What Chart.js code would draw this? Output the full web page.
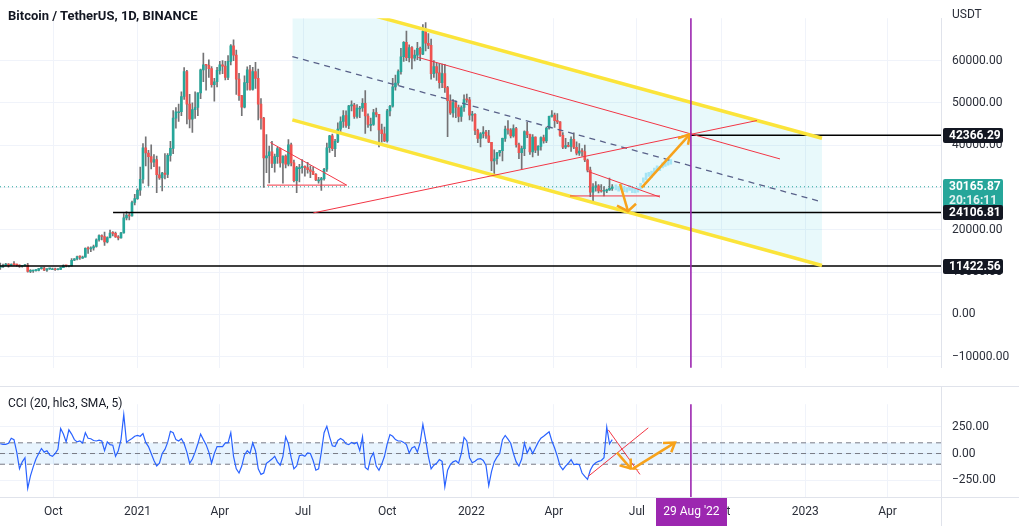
<!DOCTYPE html>
<html><head><meta charset="utf-8">
<script src="https://cdn.jsdelivr.net/npm/chart.js@4.4.1/dist/chart.umd.min.js"></script>
<style>
html,body{margin:0;padding:0;background:#fff;}
#wrap{position:relative;width:1019px;height:526px;overflow:hidden;background:#fff;font-family:Roboto,'Noto Sans',sans-serif;}
canvas{position:absolute;left:0;display:block;}
#pc{top:0;}
#cc{top:386px;}
.ov{position:absolute;white-space:nowrap;color:#131722;line-height:1;}
#title{left:8px;top:9px;font-size:13px;font-weight:bold;}
#cciLbl{left:8px;top:397px;font-size:12px;}
#usdt{left:952px;top:8px;font-size:12px;color:#2a2e39;}
</style></head>
<body><div id="wrap">
<canvas id="pc" width="1019" height="386"></canvas>
<canvas id="cc" width="1019" height="140"></canvas>
<div class="ov" id="title">Bitcoin / TetherUS, 1D, BINANCE</div>
<div class="ov" id="cciLbl">CCI (20, hlc3, SMA, 5)</div>
<div class="ov" id="usdt">USDT</div>
</div>
<script>
// ---------- DATA (day 0 = 1 Aug 2020, candles every 3 days) ----------
const startDay = 3;
const stepDays = 3;
const firstOpen = 11100;
const closes = [11200,11600,11900,11550,11850,11750,11650,11350,11500,11650,
10150,10250,10350,10400,10800,10950,10450,10750,10780,10780,
10550,10600,11050,11550,11500,11500,12800,13100,13650,13550,
13550,15600,15480,15700,16050,17650,18650,18400,17150,18180,
19200,19150,18320,18050,19250,22800,23450,23250,26450,27350,
29350,31950,39400,38150,37300,36000,36600,33000,32250,33400,33100,
37600,39250,46400,47900,47900,51500,57400,49700,46150,
48400,48900,52350,57800,59000,58900,58100,54300,55000,57700,
59000,58700,56000,59800,63500,61300,55600,51700,49000,54800,
57800,53200,57400,55800,49700,46400,37000,37500,38400,35700,37300,
39200,35800,37400,35500,40100,35800,31600,34700,34700,35000,
34700,34200,33800,33100,31800,31800,32100,34300,39400,42200,
39200,40900,43800,45600,47000,44700,49300,49500,46800,48800,
48800,49900,46900,44900,44900,47700,47300,43600,42700,41000,
48100,49200,53800,54700,57400,60900,64300,60700,63100,60600,61300,
62900,61500,66900,64100,63600,56900,58600,57100,54800,56900,
53600,50500,47600,50100,48900,46800,48900,50800,50700,47100,
47300,43500,41600,42700,43100,42200,40700,36300,36800,38200,
38700,41600,43800,43600,42200,43900,40100,38200,39200,43200,
42500,38400,41900,38800,39700,41800,41000,44000,46800,47100,
45800,45500,42300,39500,39900,39700,41400,39500,38100,38600,
38500,36500,34100,28900,30100,30400,29200,29100,29200,29400,
29800,30166];
const highs = [12100,11900,12080,12000,11950,12480,11900,11700,11600,11800,
12050,10600,10450,10600,10900,11100,11180,10800,10800,10950,
10950,10800,11100,11700,11550,11500,13200,13200,13800,13860,
13800,15750,15960,15960,16400,17850,18800,18800,19450,18350,
19900,19600,19450,18650,19400,23800,24300,24100,26800,28400,
29650,34800,40400,41950,38800,40100,37800,37400,34900,33600,38000,
38000,40900,48200,48900,49700,52600,58350,57700,52000,
50000,52600,52400,58000,61800,59000,60200,58600,55800,58400,
59800,60000,59800,61200,63800,64900,62500,57000,51800,56400,
58500,58900,58400,59600,58000,51000,46600,42500,39800,40900,37900,
39500,39300,37500,37700,41300,40500,36500,35000,35500,36600,
35100,35950,35100,34800,33300,32400,32400,34500,40500,42300,
42600,41400,45300,46700,48200,48100,49400,50500,49900,49600,
49200,51000,52900,47400,46400,48500,48800,47300,45000,44300,
48500,49400,55800,56600,57800,62900,64500,67000,63700,63300,62500,
64300,63200,68500,69000,66400,65100,60000,59400,59300,59200,
59100,53900,51900,50800,50500,49500,49300,51900,52100,51300,
48000,47500,43800,43000,44400,43500,43500,40700,38900,38300,
38800,41700,44500,45800,43900,44800,44200,40500,39800,43400,
45400,42600,42500,42000,39900,42000,42400,44300,46900,48200,
47600,47500,45600,43000,41600,40700,42000,42900,40800,40400,
39200,40000,36700,34800,30900,31400,30700,30700,30200,29600,
32200,30700];
const lows = [10650,11100,11500,11150,11550,11600,11400,11120,11150,11400,
10000,9880,9900,10200,10250,10700,10350,10150,10600,10650,
10370,10500,10550,11050,11200,11200,11400,12700,12900,12980,
13200,13550,14400,14800,15200,15900,17300,17600,16300,16900,
18100,18550,18200,17600,18000,19200,22350,22350,23200,25900,
27200,28100,31000,35100,30400,34400,34900,28800,31900,29200,32000,
32300,36200,38000,44000,45600,47000,50800,45000,44100,
43000,46300,47000,51000,55000,53000,56000,53700,50400,53800,
56800,56900,55400,55500,59000,60000,52000,50600,47000,48800,
53000,53000,53000,53400,46000,43800,30000,33500,31100,34700,33600,
35700,34800,31000,34600,35100,35100,31300,28800,31300,33400,
32700,33400,32300,33000,31600,31000,29300,31700,33800,38300,
38700,37300,40600,42800,44200,44200,43900,48100,46300,46400,
46500,48000,42800,44200,43400,44700,46700,39600,40700,40800,
40700,46900,49000,53000,54200,56800,59800,60000,59700,58000,59900,
60200,60000,61400,62300,62800,55600,56000,55300,53500,53600,
52500,42000,47300,46600,46500,45500,45600,48000,50100,46000,
45700,42500,40600,39600,41700,41600,40600,34000,32900,35500,
37400,36250,40900,42600,41700,41900,39500,36800,34300,37500,
41800,37800,37200,38200,37600,38800,40500,40600,43800,46600,
44200,45100,42100,39200,39200,39600,38500,39200,37700,37600,
37400,36100,33700,27800,26700,29100,28700,28900,28000,28800,
29300,29300];
const cciValues = [91,86,86,96,143,130,13,-143,-78,-39,
-325,-208,-125,-52,0,47,13,26,-13,-26,
0,39,234,182,109,221,182,130,109,117,
99,195,143,138,122,117,125,117,26,109,
83,78,-26,26,130,365,104,125,141,161,
169,161,187,104,65,0,-65,-117,-91,0,
39,104,208,195,130,117,138,91,13,-91,
-52,13,91,182,130,83,13,-91,0,65,
65,65,99,99,195,-26,-143,-182,-117,-13,
26,0,99,26,-143,-195,-182,-91,-73,-52,
-26,-78,-109,-26,156,91,-39,-143,-117,-21,
-13,-26,5,0,-65,-156,-143,13,195,255,
156,73,65,122,141,125,91,83,104,91,
104,26,156,-130,-151,-39,5,-117,-156,-99,
-26,91,177,161,130,117,117,104,83,5,
52,65,13,104,273,130,-26,-143,-109,-91,
-57,-73,-312,-156,-104,-78,-68,-91,0,151,
117,-39,-86,-73,-52,-47,-65,-112,-299,-169,
-78,-34,0,130,169,135,96,0,-78,-117,
-52,99,5,57,0,52,104,143,161,182,
203,117,52,-26,-117,-151,-117,-91,-57,-104,
-99,-104,-182,-214,-242,-156,-109,-86,-73,-65,
-39,247,91,130];
// projected (ghost) bars pattern
const ghostDays = [676,679,682,685,688,691,694,697,700,703,706,709,712,715,718,721,724,727,730,733,736];
const ghostLow  = [29400,29100,29500,29000,28900,29300,28800,28700,28900,29600,31200,31800,32600,32400,33300,33900,34000,34600,35000,35300,35500];
const ghostHigh = [30600,30300,30800,30200,30000,30500,29800,29600,30000,31000,32300,33400,33600,33900,34600,35100,35000,35800,36200,36400,36600];

// axis ticks
const tickDays = [61,153,243,334,426,518,608,699,791,883,973];
const tickLabels = ['Oct','2021','Apr','Jul','Oct','2022','Apr','Jul','Oct','2023','Apr'];
const priceTicks = [60000,50000,40000,30000,20000,10000,0,-10000];
const cciTicks = [250,0,-250];
const xMin = 2.7, xMax = 1031.4;
const priceMin = -12634, priceMax = 70021;
const cciMin = -406.25, cciMax = 460.9;

// price levels & marker
const levelPrices = [42366.29, 24106.81, 11422.56];
const levelStartDays = [757, 126.3, 2.7];
const lastPrice = 30165.87;
const countdown = '20:16:11';
const markerDay = 758;
const markerLabel = "29 Aug '22";
const cciBand = [100, -100];

// drawings (day, value)
const channelDays = [322.3, 901.3];
const channelTop = [75909, 41627];
const channelBottom = [45995, 11563];
const channelMid = [60952, 26595];
const redADays = [460, 855.4], redAPrices = [60748, 36745];
const redBDays = [345.2, 830.2], redBPrices = [23983, 45824];
const tri1DescDays = [298.2, 381.7], tri1DescPrices = [40621, 30556];
const tri1BaseDays = [294.6, 381.7], tri1BasePrices = [30556, 30556];
const tri2DescDays = [645.8, 724.2], tri2DescPrices = [33768, 27730];
const tri2BaseDays = [625.8, 724.2], tri2BasePrices = [28000, 28000];
const upArrowDays = [704.2, 757], upArrowPrices = [29978, 42612];
const upHeadDays = [743.9, 757, 754.8], upHeadPrices = [41627, 42612, 40085];
const dnArrowDays = [680.5, 689.2], dnArrowPrices = [30835, 24400];
const dnHeadDays = [677.2, 689.2, 698], dnHeadPrices = [25700, 24400, 26150];
const cciRedUpDays = [645.8, 711.4], cciRedUpVals = [-213, 240];
const cciRedDnDays = [667.7, 702.3], cciRedDnVals = [221, -195];
const cciDnArrowDays = [677.2, 692.5], cciDnArrowVals = [8, -141];
const cciDnHeadDays = [680, 692.5, 692.2], cciDnHeadVals = [-111, -141, -47];
const cciUpArrowDays = [694.7, 740.6], cciUpArrowVals = [-141, 102];
const cciUpHeadDays = [727.5, 740.6, 736.5], cciUpHeadVals = [99, 102, 12];

// ---------- BUILD ----------
const FONT = "Roboto, 'Noto Sans', sans-serif";
Chart.defaults.font.family = FONT;
Chart.defaults.font.size = 12;
Chart.defaults.color = '#2a2e39';

const YELLOW = '#fbe43a', RED = '#f23645', ORANGE = '#f7a21b', PURPLE = '#9c27b0';
const GRID = '#f0f3fa', BORDER = '#e0e3eb';

const candleDays = closes.map((_, i) => startDay + i * stepDays);
const opens = closes.map((c, i) => i === 0 ? firstOpen : closes[i - 1]);
const bodyColors = closes.map((c, i) => c >= opens[i] ? '#26a69a' : '#ef5350');

function seg(days, vals) { return days.map((d, i) => ({x: d, y: vals[i]})); }
function lineDs(points, color, width, order, extra) {
  return Object.assign({type: 'line', data: points, borderColor: color, borderWidth: width,
    pointRadius: 0, pointHoverRadius: 0, fill: false, tension: 0, order: order}, extra || {});
}
const fmt = v => (v < 0 ? '\u2212' + Math.abs(v).toFixed(2) : v.toFixed(2));

function xScale(showLabels) {
  return {
    type: 'linear', min: xMin, max: xMax, offset: false,
    afterBuildTicks: s => { s.ticks = tickDays.map(v => ({value: v})); },
    afterFit: s => { s.height = showLabels ? 29 : 0; },
    ticks: {display: showLabels, autoSkip: false, maxRotation: 0, padding: 8, color: '#2a2e39',
      callback: v => { const k = tickDays.indexOf(v); return k >= 0 ? tickLabels[k] : ''; }},
    grid: {color: GRID, drawTicks: false, offset: false},
    border: {display: false}
  };
}
function yScale(min, max, ticks) {
  return {
    type: 'linear', position: 'right', min: min, max: max,
    afterBuildTicks: s => { s.ticks = ticks.map(v => ({value: v})); },
    afterFit: s => { s.width = 78; },
    ticks: {autoSkip: false, padding: 11, color: '#2a2e39', callback: v => fmt(v)},
    grid: {color: GRID, drawTicks: false},
    border: {display: true, color: BORDER}
  };
}

function roundRect(ctx, x, y, w, h, r) {
  ctx.beginPath();
  ctx.moveTo(x + r, y); ctx.lineTo(x + w - r, y); ctx.quadraticCurveTo(x + w, y, x + w, y + r);
  ctx.lineTo(x + w, y + h - r); ctx.quadraticCurveTo(x + w, y + h, x + w - r, y + h);
  ctx.lineTo(x + r, y + h); ctx.quadraticCurveTo(x, y + h, x, y + h - r);
  ctx.lineTo(x, y + r); ctx.quadraticCurveTo(x, y, x + r, y); ctx.closePath();
}
function tagBox(ctx, yc, lines, bg, colors) {
  const lh = 14, h = lines.length * lh + 1;
  const top = Math.round(yc - lh / 2 - 0.5);
  ctx.fillStyle = bg; roundRect(ctx, 943, top, 60, h, 2); ctx.fill();
  ctx.font = 'bold 12px ' + FONT; ctx.textBaseline = 'middle'; ctx.textAlign = 'left';
  lines.forEach((t, i) => { ctx.fillStyle = colors[i]; ctx.fillText(t, 949, top + lh / 2 + 1 + i * lh); });
}
function purpleLine(chart) {
  const ctx = chart.ctx, ca = chart.chartArea;
  const px = chart.scales.x.getPixelForValue(markerDay);
  ctx.save(); ctx.strokeStyle = PURPLE; ctx.lineWidth = 1.6;
  ctx.beginPath(); ctx.moveTo(px, ca.top); ctx.lineTo(px, ca.bottom); ctx.stroke(); ctx.restore();
}

const priceOverlay = {
  id: 'priceOverlay',
  afterDatasetsDraw(chart) { purpleLine(chart); },
  afterDraw(chart) {
    const ctx = chart.ctx, y = chart.scales.y;
    ctx.save();
    tagBox(ctx, y.getPixelForValue(lastPrice), [lastPrice.toFixed(2), countdown], '#26a69a', ['#ffffff', 'rgba(255,255,255,0.85)']);
    levelPrices.forEach(p => tagBox(ctx, y.getPixelForValue(p), [p.toFixed(2)], '#131722', ['#ffffff']));
    ctx.restore();
  }
};
const cciOverlay = {
  id: 'cciOverlay',
  afterDatasetsDraw(chart) { purpleLine(chart); },
  afterDraw(chart) {
    const ctx = chart.ctx, ca = chart.chartArea, W = chart.width, H = chart.height;
    ctx.save();
    ctx.fillStyle = BORDER;
    ctx.fillRect(0, 0, W, 1);
    ctx.fillRect(0, Math.round(ca.bottom), W, 1);
    ctx.fillRect(Math.round(ca.right), 0, 1, H);
    const px = chart.scales.x.getPixelForValue(markerDay);
    ctx.fillStyle = PURPLE; ctx.fillRect(Math.round(px - 35), Math.round(ca.bottom + 1), 71, H - ca.bottom - 1);
    ctx.fillStyle = '#ffffff'; ctx.font = '12px ' + FONT; ctx.textAlign = 'center'; ctx.textBaseline = 'middle';
    ctx.fillText(markerLabel, px + 0.5, ca.bottom + 15);
    ctx.restore();
  }
};

const priceDatasets = [
  lineDs(seg(channelDays, channelTop), 'rgba(0,0,0,0)', 0, 40, {fill: '+1', backgroundColor: 'rgba(0,188,212,0.09)'}),
  lineDs(seg(channelDays, channelBottom), 'rgba(0,0,0,0)', 0, 39),
  lineDs(seg([xMin, xMax], [lastPrice, lastPrice]), '#26a69a', 1, 38, {borderDash: [1, 3]}),
  {type: 'bar', data: ghostDays.map((d, i) => ({x: d, y: [ghostLow[i], ghostHigh[i]]})), backgroundColor: '#a6e5f4',
    barThickness: 2, grouped: false, minBarLength: 1, order: 37},
  {type: 'bar', data: candleDays.map((d, i) => ({x: d, y: [lows[i], highs[i]]})), backgroundColor: '#737375',
    barThickness: 1, grouped: false, minBarLength: 1, order: 36},
  {type: 'bar', data: candleDays.map((d, i) => ({x: d, y: [opens[i], closes[i]]})), backgroundColor: bodyColors,
    barThickness: 2, grouped: false, minBarLength: 1, order: 35},
  ...levelPrices.map((p, i) => lineDs(seg([levelStartDays[i], xMax], [p, p]), '#000000', 1.5, 10)),
  lineDs(seg(channelDays, channelTop), YELLOW, 3.5, 9),
  lineDs(seg(channelDays, channelBottom), YELLOW, 3.5, 9),
  lineDs(seg(channelDays, channelMid), '#59628a', 1.3, 9, {borderDash: [6, 5]}),
  lineDs(seg(redADays, redAPrices), RED, 1, 8),
  lineDs(seg(redBDays, redBPrices), RED, 1, 8),
  lineDs(seg(tri1DescDays, tri1DescPrices), RED, 1, 8),
  lineDs(seg(tri1BaseDays, tri1BasePrices), RED, 1, 8),
  lineDs(seg(tri2DescDays, tri2DescPrices), RED, 1, 8),
  lineDs(seg(tri2BaseDays, tri2BasePrices), RED, 1, 8),
  lineDs(seg(upArrowDays, upArrowPrices), ORANGE, 2.5, 7),
  lineDs(seg(upHeadDays, upHeadPrices), ORANGE, 2.5, 7),
  lineDs(seg(dnArrowDays, dnArrowPrices), ORANGE, 2.5, 7),
  lineDs(seg(dnHeadDays, dnHeadPrices), ORANGE, 2.5, 7)
];

const common = {
  responsive: false, animation: false, devicePixelRatio: 1, events: [],
  layout: {padding: 0},
  plugins: {legend: {display: false}, tooltip: {enabled: false}}
};

new Chart(document.getElementById('pc'), {
  type: 'line',
  data: {datasets: priceDatasets},
  options: Object.assign({}, common, {scales: {x: xScale(false), y: yScale(priceMin, priceMax, priceTicks)}}),
  plugins: [priceOverlay]
});

const cciDatasets = [
  lineDs(seg([xMin, xMax], [cciBand[0], cciBand[0]]), '#787b86', 1, 40, {borderDash: [5, 4], fill: '+1', backgroundColor: 'rgba(33,150,243,0.1)'}),
  lineDs(seg([xMin, xMax], [cciBand[1], cciBand[1]]), '#787b86', 1, 39, {borderDash: [5, 4]}),
  lineDs(seg([xMin, xMax], [0, 0]), '#787b86', 1, 38, {borderDash: [5, 4]}),
  lineDs(candleDays.map((d, i) => ({x: d, y: cciValues[i]})), '#2962ff', 1.2, 10),
  lineDs(seg(cciRedUpDays, cciRedUpVals), RED, 1, 8),
  lineDs(seg(cciRedDnDays, cciRedDnVals), RED, 1, 8),
  lineDs(seg(cciDnArrowDays, cciDnArrowVals), ORANGE, 2.5, 7),
  lineDs(seg(cciDnHeadDays, cciDnHeadVals), ORANGE, 2.5, 7),
  lineDs(seg(cciUpArrowDays, cciUpArrowVals), ORANGE, 2.5, 7),
  lineDs(seg(cciUpHeadDays, cciUpHeadVals), ORANGE, 2.5, 7)
];

new Chart(document.getElementById('cc'), {
  type: 'line',
  data: {datasets: cciDatasets},
  options: Object.assign({}, common, {scales: {x: xScale(true), y: yScale(cciMin, cciMax, cciTicks)}}),
  plugins: [cciOverlay]
});
</script>
</body></html>
